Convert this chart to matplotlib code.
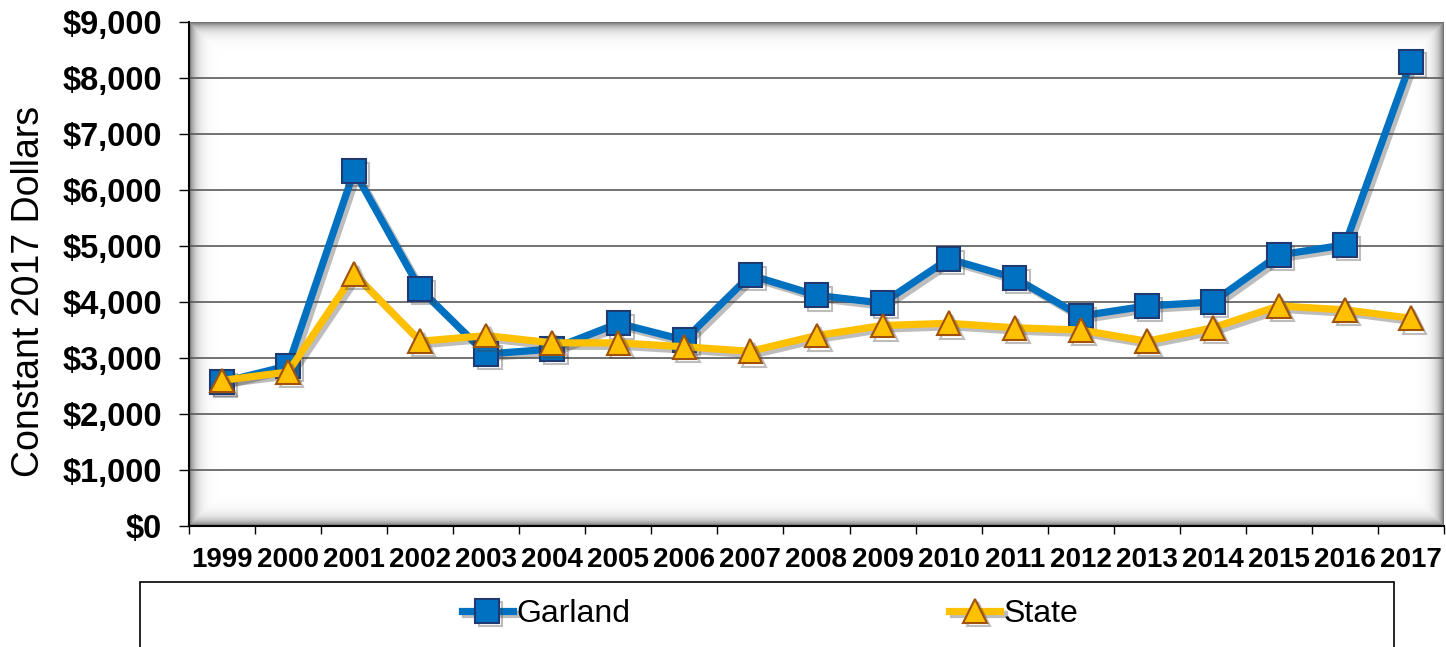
import numpy as np
import matplotlib
matplotlib.use("Agg")
import matplotlib.pyplot as plt
import matplotlib.patheffects as pe
from matplotlib.patches import Rectangle
from matplotlib.ticker import FuncFormatter, MultipleLocator

plt.rcParams['font.family'] = ['Liberation Sans', 'DejaVu Sans']

years = ['1999', '2000', '2001', '2002', '2003', '2004', '2005', '2006', '2007', '2008',
         '2009', '2010', '2011', '2012', '2013', '2014', '2015', '2016', '2017']
garland = [2570, 2860, 6340, 4230, 3070, 3160, 3620, 3320, 4480, 4120,
           3980, 4770, 4430, 3750, 3930, 4000, 4840, 5020, 8290]
state = [2600, 2750, 4500, 3300, 3400, 3270, 3270, 3200, 3120, 3400,
         3580, 3620, 3540, 3500, 3300, 3540, 3930, 3860, 3710]

W, H = 1446, 647
fig = plt.figure(figsize=(W / 100, H / 100), dpi=100)
ax = fig.add_axes([189 / W, 1 - 526 / H, (1444 - 189) / W, (526 - 22) / H])

# inner shadow background of the plot area
pw, ph = 1255, 504
xx = np.arange(pw)[None, :]
yy = np.arange(ph)[:, None]
d = np.minimum(np.minimum(xx, pw - 1 - xx), np.minimum(yy, ph - 1 - yy)).astype(float)
bg = 1 - 0.55 * np.exp(-d / 6.0)
ax.imshow(bg, cmap='gray', vmin=0, vmax=1, extent=[0, 1, 0, 1], transform=ax.transAxes,
          aspect='auto', zorder=0, interpolation='bilinear')

x = np.arange(len(years))
shadow = [pe.SimpleLineShadow(offset=(2.5, -2.5), shadow_color='#444444', alpha=0.35), pe.Normal()]

ax.plot(x, garland, color='#0070C0', lw=5.2, marker='s', ms=17, mfc='#0070C0',
        mec='#1F3A73', mew=1.5, label='Garland', zorder=3, path_effects=shadow)
ax.plot(x, state, color='#FFC000', lw=5.2, marker='^', ms=17, mfc='#FFC000',
        mec='#A0520A', mew=1.5, label='State', zorder=4, path_effects=shadow)

ax.set_xlim(-0.5, len(years) - 0.5)
ax.set_ylim(0, 9000)
ax.yaxis.set_major_locator(MultipleLocator(1000))
ax.yaxis.set_major_formatter(FuncFormatter(lambda v, p: '${:,.0f}'.format(v)))
for v in range(1000, 9000, 1000):
    ax.axhline(v, color='#5a5a5a', lw=1.2, zorder=1)

ax.set_xticks(x)
ax.set_xticklabels(years)
ax.set_xticks(np.arange(-0.5, len(years), 1), minor=True)
ax.tick_params(axis='x', which='major', length=0, pad=15, labelsize=20)
ax.tick_params(axis='x', which='minor', length=6, width=1, direction='out')
ax.tick_params(axis='y', length=7.5, width=1, direction='out', labelsize=23.5, pad=12)
for lab in ax.get_xticklabels() + ax.get_yticklabels():
    lab.set_fontweight('bold')

for s in ['top', 'right']:
    ax.spines[s].set_visible(False)
ax.spines['left'].set_linewidth(1.5)
ax.spines['bottom'].set_linewidth(1.5)

fig.text(29 / W, 1 - 291 / H, 'Constant 2017 Dollars', fontsize=27, rotation=90,
         ha='center', va='center')

# legend box
fig.patches.append(Rectangle((140 / W, -0.2), (1394 - 140) / W, 0.2 + 1 - 582 / H,
                             transform=fig.transFigure, fill=False, ec='black', lw=1.2))
fig.legend(loc='center', bbox_to_anchor=(770 / W, 1 - 614 / H), ncol=2, frameon=False,
           fontsize=23, handlelength=1.6, handletextpad=0.1, columnspacing=10.0,
           borderpad=0, borderaxespad=0)

fig.savefig('out.png', dpi=100)
